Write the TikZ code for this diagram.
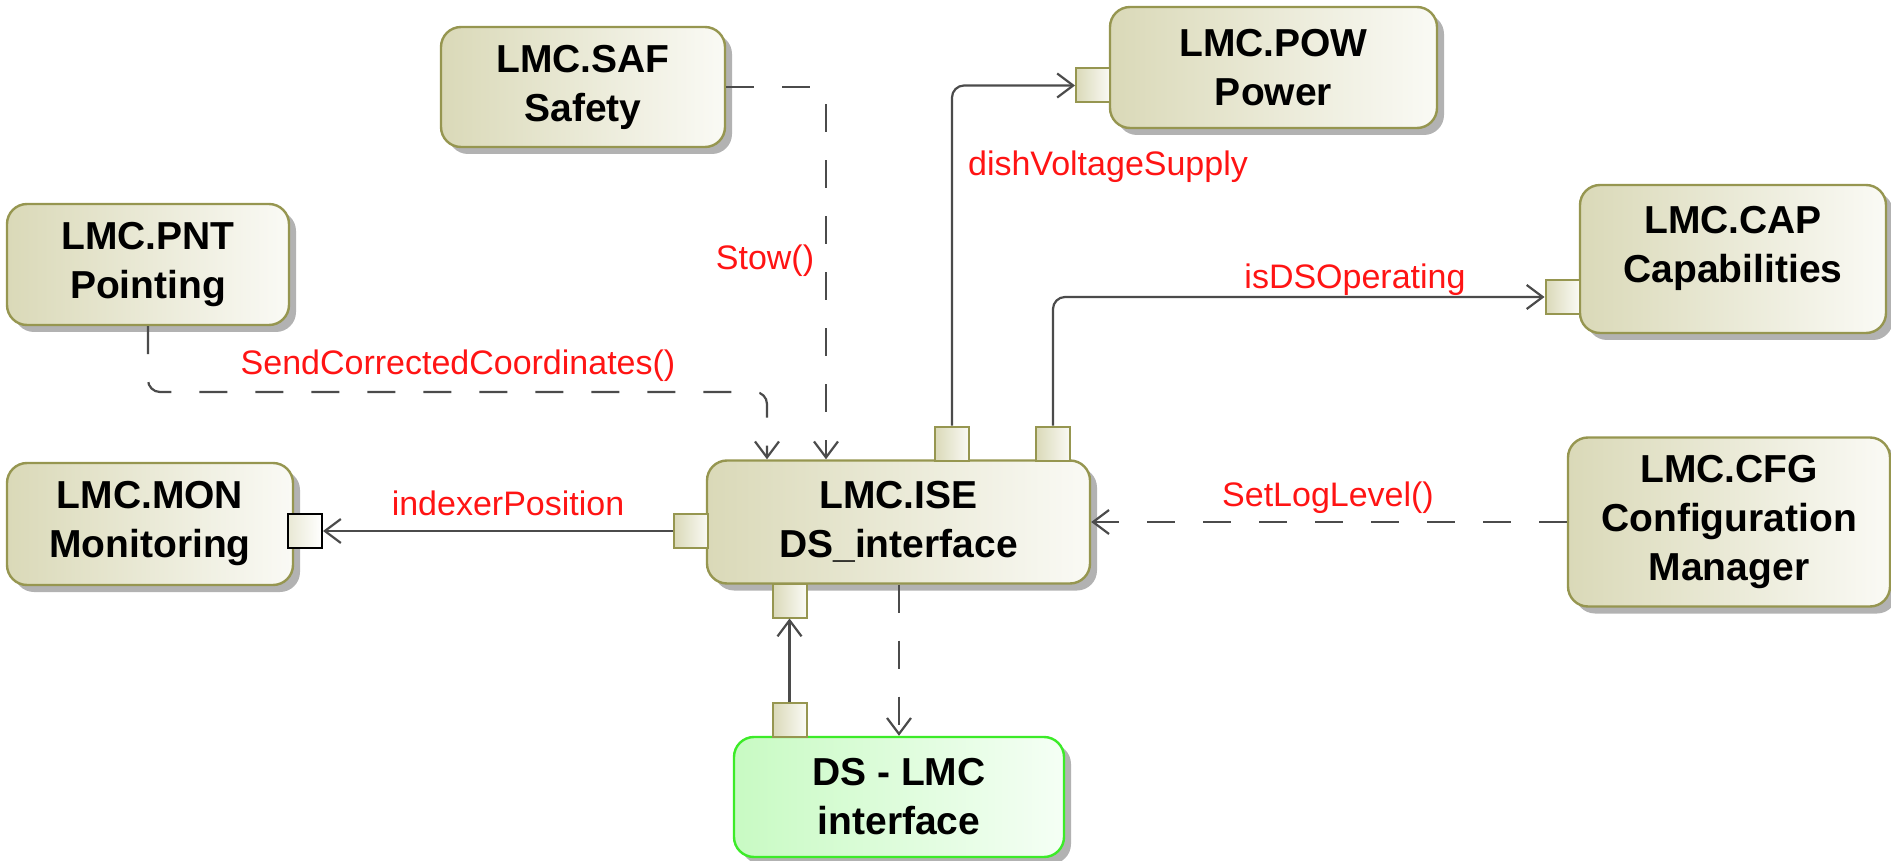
\documentclass[tikz,border=0pt]{standalone}
\usepackage{fontspec}
\setmainfont{Liberation Sans}
\usetikzlibrary{arrows.meta,shadows}
\definecolor{boxtan}{RGB}{218,217,184}
\definecolor{boxlight}{RGB}{250,250,245}
\definecolor{boxedge}{RGB}{150,150,80}
\definecolor{ifedge}{RGB}{60,235,40}
\definecolor{ifgreen}{RGB}{200,250,195}
\definecolor{iflight}{RGB}{245,255,245}
\definecolor{conncol}{RGB}{75,75,75}
\definecolor{msgred}{RGB}{255,20,20}
\tikzset{
  block/.style   = {draw=boxedge, line width=1.2pt, rounded corners=10pt, left color=boxtan, right color=boxlight,
                    align=center, inner sep=0pt, font=\fontsize{19.5}{24.5}\selectfont\bfseries,
                    drop shadow={shadow xshift=3.5pt, shadow yshift=-3.5pt, fill=black!30, opacity=1}},
  ifblock/.style = {block, draw=ifedge, left color=ifgreen, right color=iflight},
  port/.style    = {draw=boxedge, line width=1pt, left color=boxtan, right color=boxlight, minimum size=17pt, inner sep=0pt},
  portk/.style   = {port, draw=black, left color=boxtan!60, right color=white},
  flow/.style    = {draw=conncol, line width=1.1pt, rounded corners=6pt, -{Straight Barb[length=8pt,width=12pt]}},
  dep/.style     = {flow, dash pattern=on 14pt off 14pt},
  msg/.style     = {font=\fontsize{17}{20}\selectfont, text=msgred, inner sep=0pt},
}
\begin{document}
\begin{tikzpicture}[x=0.5pt,y=-0.5pt]
  \useasboundingbox (0,0) rectangle (1891,861);

  \foreach \n/\x/\y/\w/\h/\t in {%
    saf/583/87/142pt/60pt/{LMC.SAF\\Safety},
    pow/1273.5/67.5/163.5pt/60.5pt/{LMC.POW\\Power},
    pnt/148/264.5/141pt/60.5pt/{LMC.PNT\\Pointing},
    mon/150/524/143pt/61pt/{LMC.MON\\Monitoring},
    ise/898.5/522/191.5pt/61.5pt/{LMC.ISE\\DS\_interface},
    cfg/1729/522/161pt/84.5pt/{LMC.CFG\\Configuration\\Manager}}
  {
    \node[block, minimum width=\w, minimum height=\h] (\n) at (\x,\y) {\t};
  }
  \node[block, minimum width=153pt, minimum height=74pt, text depth=15pt] (cap) at (1733,259) {LMC.CAP\\Capabilities};
  \node[ifblock, minimum width=165pt, minimum height=60pt] (dslmc) at (899,797) {DS - LMC\\interface};

  \foreach \n/\x/\y in {isetopa/952/443.5, isetopb/1053/443.5, iseleft/691/531, isebot/789.5/600.5,
                        dstop/789.5/720, powport/1093/85.5, capport/1562.5/297} {
    \node[port] (\n) at (\x,\y) {};
  }
  \node[portk] (monport) at (305,531) {};

  \coordinate (pntbend) at (767,392);
  \draw[dep] (pnt.south) |- (pntbend) -- (pntbend |- ise.north);
  \draw[dep] (saf.east) -| ([xshift=-36.25pt]ise.north);
  \draw[flow] (isetopa.north) |- (powport.west);
  \draw[flow] (isetopb.north) |- (capport.west);
  \draw[flow] (iseleft.west) -- (monport.east);
  \draw[dep] (cfg.west) -- (ise.east);
  \draw[flow] (dstop.north) -- (isebot.south);
  \draw[dep] (dslmc.north |- ise.south) -- (dslmc.north);

  \foreach \n/\x/\y/\t in {stowlbl/765/261/{Stow()}, sendlbl/458/366/{SendCorrectedCoordinates()},
                           voltlbl/1108/167/{dishVoltageSupply}, operlbl/1355/280/{isDSOperating},
                           indexlbl/508/503.5/{indexerPosition}, loglbl/1328/497.5/{SetLogLevel()}} {
    \node[msg] (\n) at (\x,\y) {\t};
  }
\end{tikzpicture}
\end{document}
